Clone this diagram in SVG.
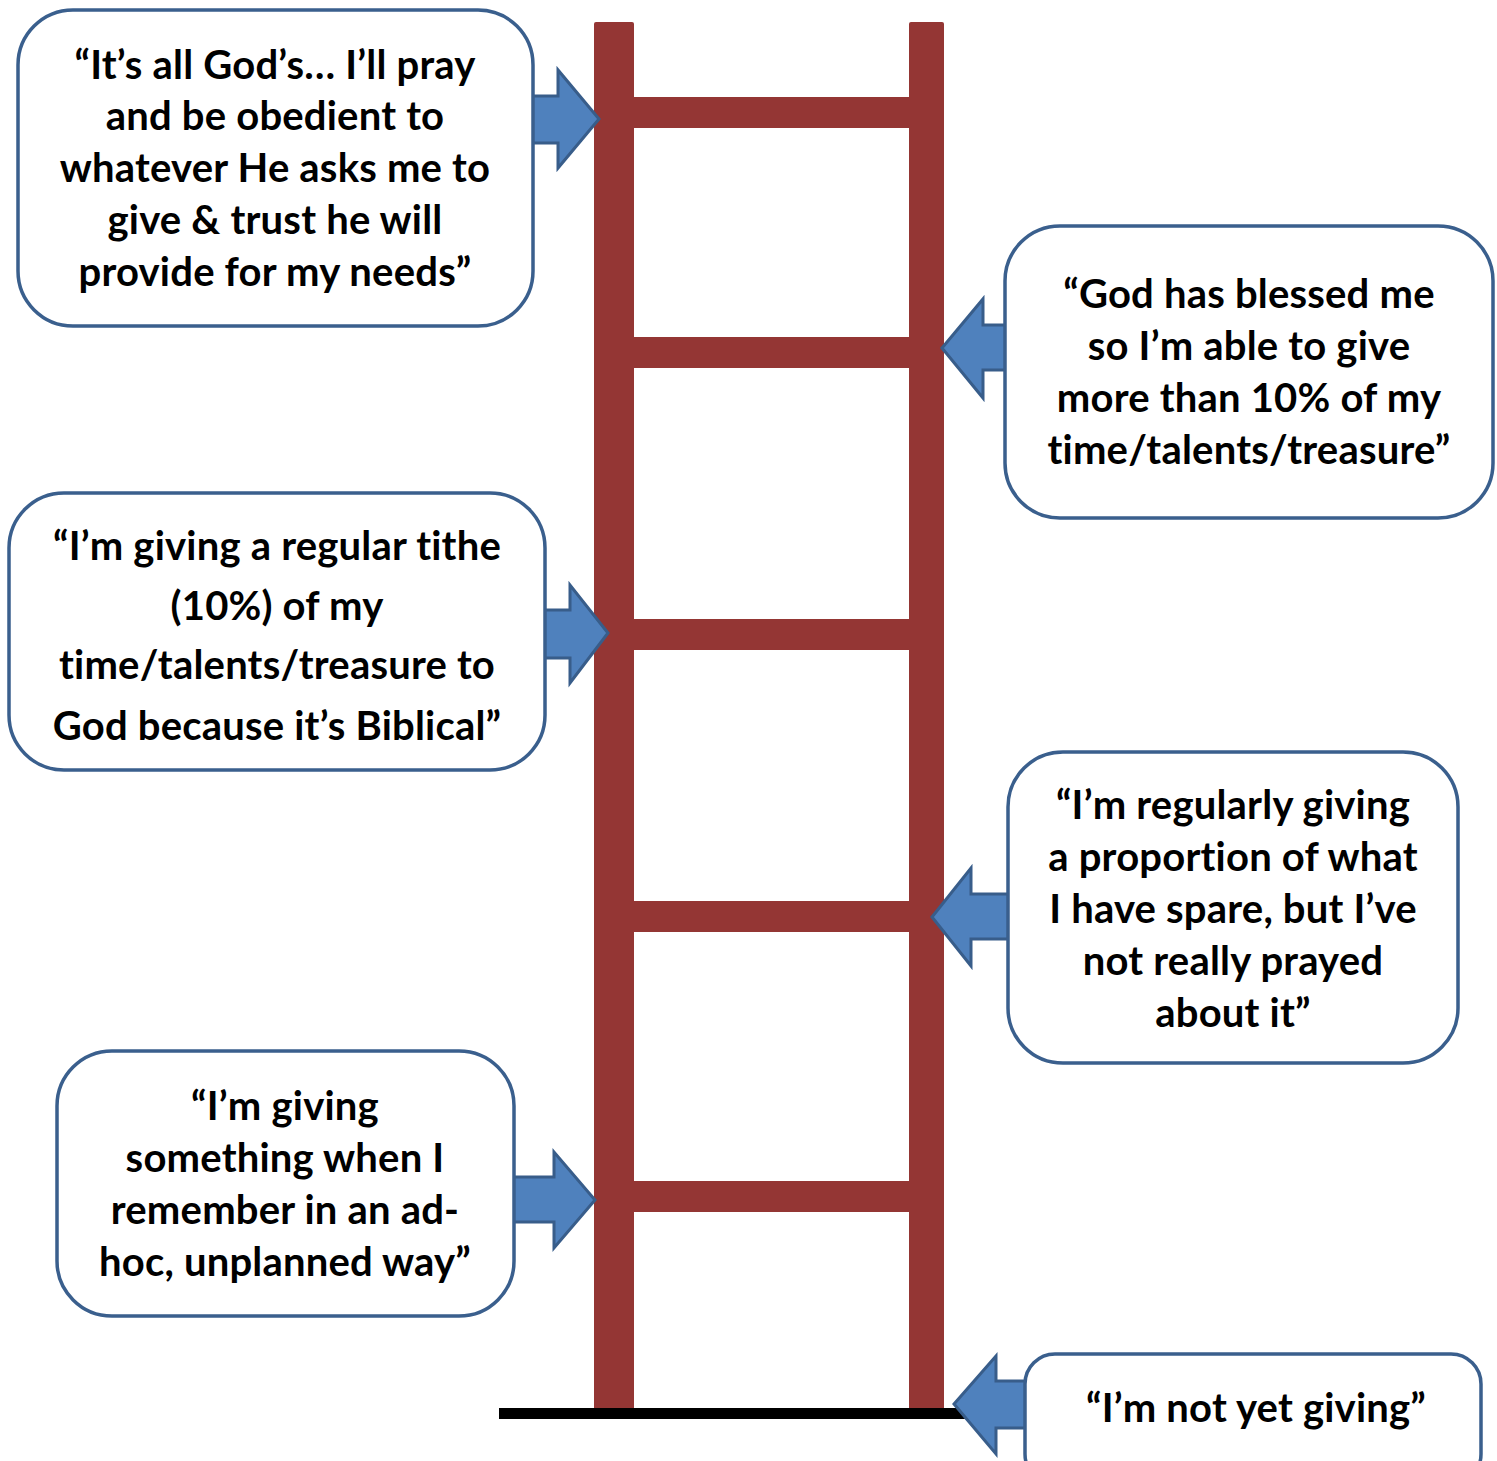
<svg xmlns="http://www.w3.org/2000/svg" width="1497" height="1461" viewBox="0 0 1497 1461">
<style>
.rail{fill:#943634}
.box{fill:#ffffff;stroke:#3A5F8D;stroke-width:3.5}
.arr{fill:#4F81BD;stroke:#385D8A;stroke-width:3;stroke-linejoin:miter}
.t{font-family:Lato,"Open Sans","Liberation Sans",sans-serif;font-weight:700;font-size:40px;letter-spacing:0.2px;fill:#000000;text-anchor:middle}
</style>
<rect width="1497" height="1461" fill="#ffffff"/>
<g id="ladder">
<rect class="rail" x="594" y="22" width="40" height="1388" rx="2"/>
<rect class="rail" x="909" y="22" width="35" height="1388" rx="2"/>
<rect class="rail" x="633" y="97" width="277" height="31"/>
<rect class="rail" x="633" y="337" width="277" height="31"/>
<rect class="rail" x="633" y="619" width="277" height="31"/>
<rect class="rail" x="633" y="901" width="277" height="31"/>
<rect class="rail" x="633" y="1181" width="277" height="31"/>
<rect x="499" y="1408" width="468" height="11" fill="#000000"/>
</g>
<g id="connectors">
<path class="arr" d="M520,96 H558 V70 L599,119 L558,168 V143 H520 Z"/>
<path class="arr" d="M1020,325 H983 V299 L942,348 L983,398 V370 H1020 Z"/>
<path class="arr" d="M530,610 H570 V585 L608,633 L570,683 V658 H530 Z"/>
<path class="arr" d="M1022,894 H971 V868 L932,917 L971,966 V939 H1022 Z"/>
<path class="arr" d="M500,1177 H554 V1152 L595,1200 L554,1248 V1222 H500 Z"/>
<path class="arr" d="M1040,1381 H996 V1356 L954,1404 L996,1454 V1428 H1040 Z"/>
</g>
<g id="node-1">
<rect class="box" x="18" y="10" width="515" height="316" rx="55"/>
<text class="t" x="275" y="79">“It’s all God’s… I’ll pray</text>
<text class="t" x="275" y="130">and be obedient to</text>
<text class="t" x="275" y="182">whatever He asks me to</text>
<text class="t" x="275" y="234">give &amp; trust he will</text>
<text class="t" x="275" y="286">provide for my needs”</text>
</g>
<g id="node-2">
<rect class="box" x="1005" y="226" width="488" height="292" rx="55"/>
<text class="t" x="1249" y="308">“God has blessed me</text>
<text class="t" x="1249" y="360">so I’m able to give</text>
<text class="t" x="1249" y="412">more than 10% of my</text>
<text class="t" x="1249" y="464">time/talents/treasure”</text>
</g>
<g id="node-3">
<rect class="box" x="9" y="493" width="536" height="277" rx="55"/>
<text class="t" x="277" y="560">“I’m giving a regular tithe</text>
<text class="t" x="277" y="620">(10%) of my</text>
<text class="t" x="277" y="679">time/talents/treasure to</text>
<text class="t" x="277" y="740">God because it’s Biblical”</text>
</g>
<g id="node-4">
<rect class="box" x="1008" y="752" width="450" height="311" rx="55"/>
<text class="t" x="1233" y="819">“I’m regularly giving</text>
<text class="t" x="1233" y="871">a proportion of what</text>
<text class="t" x="1233" y="923">I have spare, but I’ve</text>
<text class="t" x="1233" y="975">not really prayed</text>
<text class="t" x="1233" y="1027">about it”</text>
</g>
<g id="node-5">
<rect class="box" x="57" y="1051" width="457" height="265" rx="55"/>
<text class="t" x="285" y="1120">“I’m giving</text>
<text class="t" x="285" y="1172">something when I</text>
<text class="t" x="285" y="1224">remember in an ad-</text>
<text class="t" x="285" y="1276">hoc, unplanned way”</text>
</g>
<g id="node-6">
<rect class="box" x="1025" y="1354" width="456" height="130" rx="30"/>
<text class="t" x="1256" y="1422">“I’m not yet giving”</text>
</g>
</svg>
